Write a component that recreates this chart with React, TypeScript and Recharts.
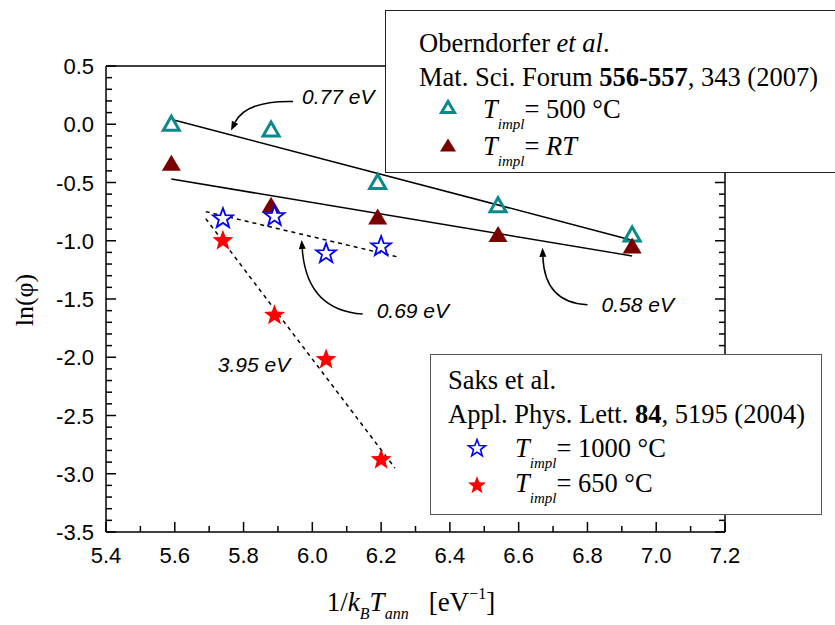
import { ScatterChart, Scatter, XAxis, YAxis, ReferenceLine, ReferenceDot } from "recharts"

// Oberndorfer et al., T_impl = 500 °C and RT
const invT500 = [5.59, 5.88, 6.19, 6.54, 6.93]
const lnPhi500 = [0.0, -0.05, -0.5, -0.7, -0.95]
const invTRT = [5.59, 5.88, 6.19, 6.54, 6.93]
const lnPhiRT = [-0.34, -0.7, -0.8, -0.95, -1.05]
// Saks et al., T_impl = 1000 °C and 650 °C
const invT1000 = [5.74, 5.89, 6.04, 6.2]
const lnPhi1000 = [-0.81, -0.79, -1.11, -1.05]
const invT650 = [5.74, 5.89, 6.04, 6.2]
const lnPhi650 = [-1.0, -1.64, -2.02, -2.88]

// fitted Arrhenius lines: [x0, y0, x1, y1]
const fit500 = [5.6, 0.035, 6.93, -0.995]
const fitRT = [5.59, -0.47, 6.93, -1.13]
const fit1000 = [5.69, -0.75, 6.25, -1.14]
const fit650 = [5.69, -0.81, 6.24, -2.95]

// activation energy labels, anchored at text start (data coords)
const energyLabels = ["0.77 eV", "0.69 eV", "0.58 eV", "3.95 eV"]
const labelX = [5.97, 6.187, 6.841, 5.725]
const labelY = [0.17, -1.664, -1.61, -2.128]

const xMajor = [5.4, 5.6, 5.8, 6.0, 6.2, 6.4, 6.6, 6.8, 7.0, 7.2]
const yMajor = [-3.5, -3.0, -2.5, -2.0, -1.5, -1.0, -0.5, 0.0, 0.5]

const xTicks = Array.from({ length: 19 }, (_, i) => Math.round((5.4 + i * 0.1) * 10) / 10)
const yTicks = Array.from({ length: 41 }, (_, i) => Math.round((-3.5 + i * 0.1) * 10) / 10)

const isMajor = (v: number, list: number[]) => list.some((m) => Math.abs(m - v) < 1e-6)

const toPts = (xs: number[], ys: number[]) => xs.map((x, i) => ({ x, y: ys[i] }))

const TEAL = "#0a8a8a"
const DARKRED = "#7a0000"
const BLUE = "#0000ff"
const RED = "#ff0000"

const starPath = (cx: number, cy: number, R: number, r: number) => {
    let d = ""
    for (let i = 0; i < 10; i++) {
        const rad = i % 2 === 0 ? R : r
        const a = -Math.PI / 2 + (i * Math.PI) / 5
        d += (i === 0 ? "M" : "L") + (cx + rad * Math.cos(a)).toFixed(2) + "," + (cy + rad * Math.sin(a)).toFixed(2)
    }
    return d + "Z"
}

const OpenTriangle = (p: any) => (
    <polygon
        points={`${p.cx},${p.cy - 8} ${p.cx - 8},${p.cy + 6} ${p.cx + 8},${p.cy + 6}`}
        fill="none"
        stroke={TEAL}
        strokeWidth={3}
        strokeLinejoin="miter"
    />
)
const FilledTriangle = (p: any) => (
    <polygon points={`${p.cx},${p.cy - 9} ${p.cx - 9.5},${p.cy + 7} ${p.cx + 9.5},${p.cy + 7}`} fill={DARKRED} />
)
const OpenStar = (p: any) => <path d={starPath(p.cx, p.cy, 10.5, 4.3)} fill="#fff" stroke={BLUE} strokeWidth={1.8} />
const FilledStar = (p: any) => <path d={starPath(p.cx, p.cy, 11, 4.6)} fill={RED} />

const tickFont = { fontFamily: "Liberation Sans, Arial, sans-serif", fontSize: 22, fill: "#000" }

const BottomTick = (p: any) => {
    const v = p.payload.value
    const maj = isMajor(v, xMajor)
    const y0 = p.y - 12
    return (
        <g>
            <line x1={p.x} x2={p.x} y1={y0} y2={y0 - (maj ? 10 : 6)} stroke="#000" strokeWidth={1.5} />
            {maj && (
                <text x={p.x} y={p.y + 19} textAnchor="middle" {...tickFont}>
                    {v.toFixed(1)}
                </text>
            )}
        </g>
    )
}
const LeftTick = (p: any) => {
    const v = p.payload.value
    const maj = isMajor(v, yMajor)
    const x0 = p.x + 14
    return (
        <g>
            <line x1={x0} x2={x0 + (maj ? 10 : 6)} y1={p.y} y2={p.y} stroke="#000" strokeWidth={1.5} />
            {maj && (
                <text x={p.x + 2} y={p.y + 8} textAnchor="end" {...tickFont}>
                    {v.toFixed(1)}
                </text>
            )}
        </g>
    )
}
const TopTick = (p: any) => {
    const maj = isMajor(p.payload.value, xMajor)
    return <line x1={p.x} x2={p.x} y1={p.y} y2={p.y + (maj ? 10 : 6)} stroke="#000" strokeWidth={1.5} />
}
const RightTick = (p: any) => {
    const maj = isMajor(p.payload.value, yMajor)
    return <line x1={p.x} x2={p.x - (maj ? 10 : 6)} y1={p.y} y2={p.y} stroke="#000" strokeWidth={1.5} />
}

// curved arrow + label, offsets relative to label start
const arrowGeom = [
    { s: [-9, -3], c: [-56, -4], e: [-71, 26] },
    { s: [-14, -4], c: [-70, -8], e: [-75, -78] },
    { s: [-14, -7], c: [-57, -9], e: [-59, -64] },
    null,
]

const EnergyLabel = (idx: number) => (p: any) => {
    const g = arrowGeom[idx]
    const { cx, cy } = p
    let arrow = null
    if (g) {
        const [sx, sy] = [cx + g.s[0], cy + g.s[1]]
        const [qx, qy] = [cx + g.c[0], cy + g.c[1]]
        const [ex, ey] = [cx + g.e[0], cy + g.e[1]]
        const ang = Math.atan2(ey - qy, ex - qx)
        const L = 9
        const W = 3.5
        const bx = ex - L * Math.cos(ang)
        const by = ey - L * Math.sin(ang)
        const head = `${ex},${ey} ${bx + W * Math.sin(ang)},${by - W * Math.cos(ang)} ${bx - W * Math.sin(ang)},${by + W * Math.cos(ang)}`
        arrow = (
            <g>
                <path d={`M${sx},${sy} Q${qx},${qy} ${bx},${by}`} fill="none" stroke="#000" strokeWidth={1.5} />
                <polygon points={head} fill="#000" />
            </g>
        )
    }
    return (
        <g>
            {arrow}
            <text x={cx} y={cy} fontFamily="Liberation Sans, Arial, sans-serif" fontStyle="italic" fontSize={21} fill="#000">
                {energyLabels[idx]}
            </text>
        </g>
    )
}

const serif = "Liberation Serif, 'Times New Roman', serif"

const LegendLine = ({ top, left, children }: any) => (
    <div style={{ position: "absolute", top, left, fontFamily: serif, fontSize: 26.5, lineHeight: "26.5px", whiteSpace: "nowrap", color: "#000" }}>
        {children}
    </div>
)
const Timpl = () => (
    <>
        <i>T</i>
        <i style={{ fontSize: 15, position: "relative", top: 11 }}>impl</i>
    </>
)

const Marker = ({ cx, cy, kind }: any) => (
    <svg style={{ position: "absolute", left: cx - 12, top: cy - 12 }} width={24} height={24}>
        {kind === "ot" && <polygon points="12,5.5 5.5,16.5 18.5,16.5" fill="none" stroke={TEAL} strokeWidth={3} />}
        {kind === "ft" && <polygon points="12,4.5 4,17.5 20,17.5" fill={DARKRED} />}
        {kind === "os" && <path d={starPath(12, 12.5, 9, 3.7)} fill="#fff" stroke={BLUE} strokeWidth={1.6} />}
        {kind === "fs" && <path d={starPath(12, 12.5, 9.5, 3.9)} fill={RED} />}
    </svg>
)

export default function App() {
    return (
        <div style={{ position: "absolute", left: 0, top: 0, width: 835, height: 625, background: "#fff", overflow: "hidden" }}>
            <ScatterChart width={835} height={625} margin={{ top: 65, right: 109, bottom: 53, left: 46 }}>
                <XAxis
                    dataKey="x"
                    type="number"
                    domain={[5.4, 7.2]}
                    ticks={xTicks}
                    interval={0}
                    allowDataOverflow
                    height={40}
                    tickSize={0}
                    tickMargin={12}
                    tickLine={false}
                    axisLine={{ stroke: "#000", strokeWidth: 1.5 }}
                    tick={<BottomTick />}
                />
                <XAxis
                    xAxisId="top"
                    orientation="top"
                    type="number"
                    domain={[5.4, 7.2]}
                    ticks={xTicks}
                    interval={0}
                    allowDataOverflow
                    height={1}
                    tickSize={0}
                    tickMargin={0}
                    tickLine={false}
                    axisLine={{ stroke: "#000", strokeWidth: 1.5 }}
                    tick={<TopTick />}
                />
                <YAxis
                    dataKey="y"
                    type="number"
                    domain={[-3.5, 0.5]}
                    ticks={yTicks}
                    interval={0}
                    allowDataOverflow
                    width={60}
                    tickSize={0}
                    tickMargin={14}
                    tickLine={false}
                    axisLine={{ stroke: "#000", strokeWidth: 1.5 }}
                    tick={<LeftTick />}
                />
                <YAxis
                    yAxisId="right"
                    orientation="right"
                    type="number"
                    domain={[-3.5, 0.5]}
                    ticks={yTicks}
                    interval={0}
                    allowDataOverflow
                    width={1}
                    tickSize={0}
                    tickMargin={0}
                    tickLine={false}
                    axisLine={{ stroke: "#000", strokeWidth: 1.5 }}
                    tick={<RightTick />}
                />

                {[fit500, fitRT].map((f, i) => (
                    <ReferenceLine key={"s" + i} segment={[{ x: f[0], y: f[1] }, { x: f[2], y: f[3] }]} stroke="#000" strokeWidth={1.5} />
                ))}
                {[fit1000, fit650].map((f, i) => (
                    <ReferenceLine
                        key={"d" + i}
                        segment={[{ x: f[0], y: f[1] }, { x: f[2], y: f[3] }]}
                        stroke="#000"
                        strokeWidth={1.5}
                        strokeDasharray="4 4"
                    />
                ))}

                <Scatter data={toPts(invT500, lnPhi500)} shape={OpenTriangle} isAnimationActive={false} />
                <Scatter data={toPts(invTRT, lnPhiRT)} shape={FilledTriangle} isAnimationActive={false} />
                <Scatter data={toPts(invT1000, lnPhi1000)} shape={OpenStar} isAnimationActive={false} />
                <Scatter data={toPts(invT650, lnPhi650)} shape={FilledStar} isAnimationActive={false} />

                {energyLabels.map((_, i) => (
                    <ReferenceDot key={"e" + i} x={labelX[i]} y={labelY[i]} r={0} shape={EnergyLabel(i)} />
                ))}
            </ScatterChart>

            {/* axis titles */}
            <div
                style={{
                    position: "absolute",
                    left: 25,
                    top: 300,
                    transform: "translate(-50%, -50%) rotate(-90deg)",
                    fontFamily: serif,
                    fontSize: 26,
                    whiteSpace: "nowrap",
                }}
            >
                ln(φ)
            </div>
            <div
                style={{
                    position: "absolute",
                    left: 411,
                    top: 589,
                    transform: "translateX(-50%)",
                    fontFamily: serif,
                    fontSize: 27,
                    lineHeight: "27px",
                    whiteSpace: "nowrap",
                }}
            >
                1/<i>k</i>
                <i style={{ fontSize: 16, position: "relative", top: 8 }}>B</i>
                <i>T</i>
                <i style={{ fontSize: 16, position: "relative", top: 8 }}>ann</i>
                <span style={{ marginLeft: 20 }}>[eV</span>
                <span style={{ fontSize: 16, position: "relative", top: -12 }}>−1</span>]
            </div>

            {/* legend box: Oberndorfer */}
            <div style={{ position: "absolute", left: 385, top: 10, width: 470, height: 161, background: "#fff", border: "1.5px solid #222" }} />
            <LegendLine top={30} left={419}>
                Oberndorfer <i>et al</i>.
            </LegendLine>
            <LegendLine top={64} left={419}>
                Mat. Sci. Forum <b>556-557</b>, 343 (2007)
            </LegendLine>
            <Marker cx={448} cy={108} kind="ot" />
            <LegendLine top={96} left={483}>
                <Timpl />= 500 °C
            </LegendLine>
            <Marker cx={448} cy={146} kind="ft" />
            <LegendLine top={133} left={483}>
                <Timpl />= <i>RT</i>
            </LegendLine>

            {/* legend box: Saks */}
            <div style={{ position: "absolute", left: 430, top: 354, width: 390, height: 159, background: "#fff", border: "1.5px solid #555" }} />
            <LegendLine top={367} left={448}>
                Saks et al.
            </LegendLine>
            <LegendLine top={401} left={448}>
                Appl. Phys. Lett. <b>84</b>, 5195 (2004)
            </LegendLine>
            <Marker cx={477} cy={448} kind="os" />
            <LegendLine top={435} left={515}>
                <Timpl />= 1000 °C
            </LegendLine>
            <Marker cx={477} cy={485} kind="fs" />
            <LegendLine top={470} left={515}>
                <Timpl />= 650 °C
            </LegendLine>
        </div>
    )
}
